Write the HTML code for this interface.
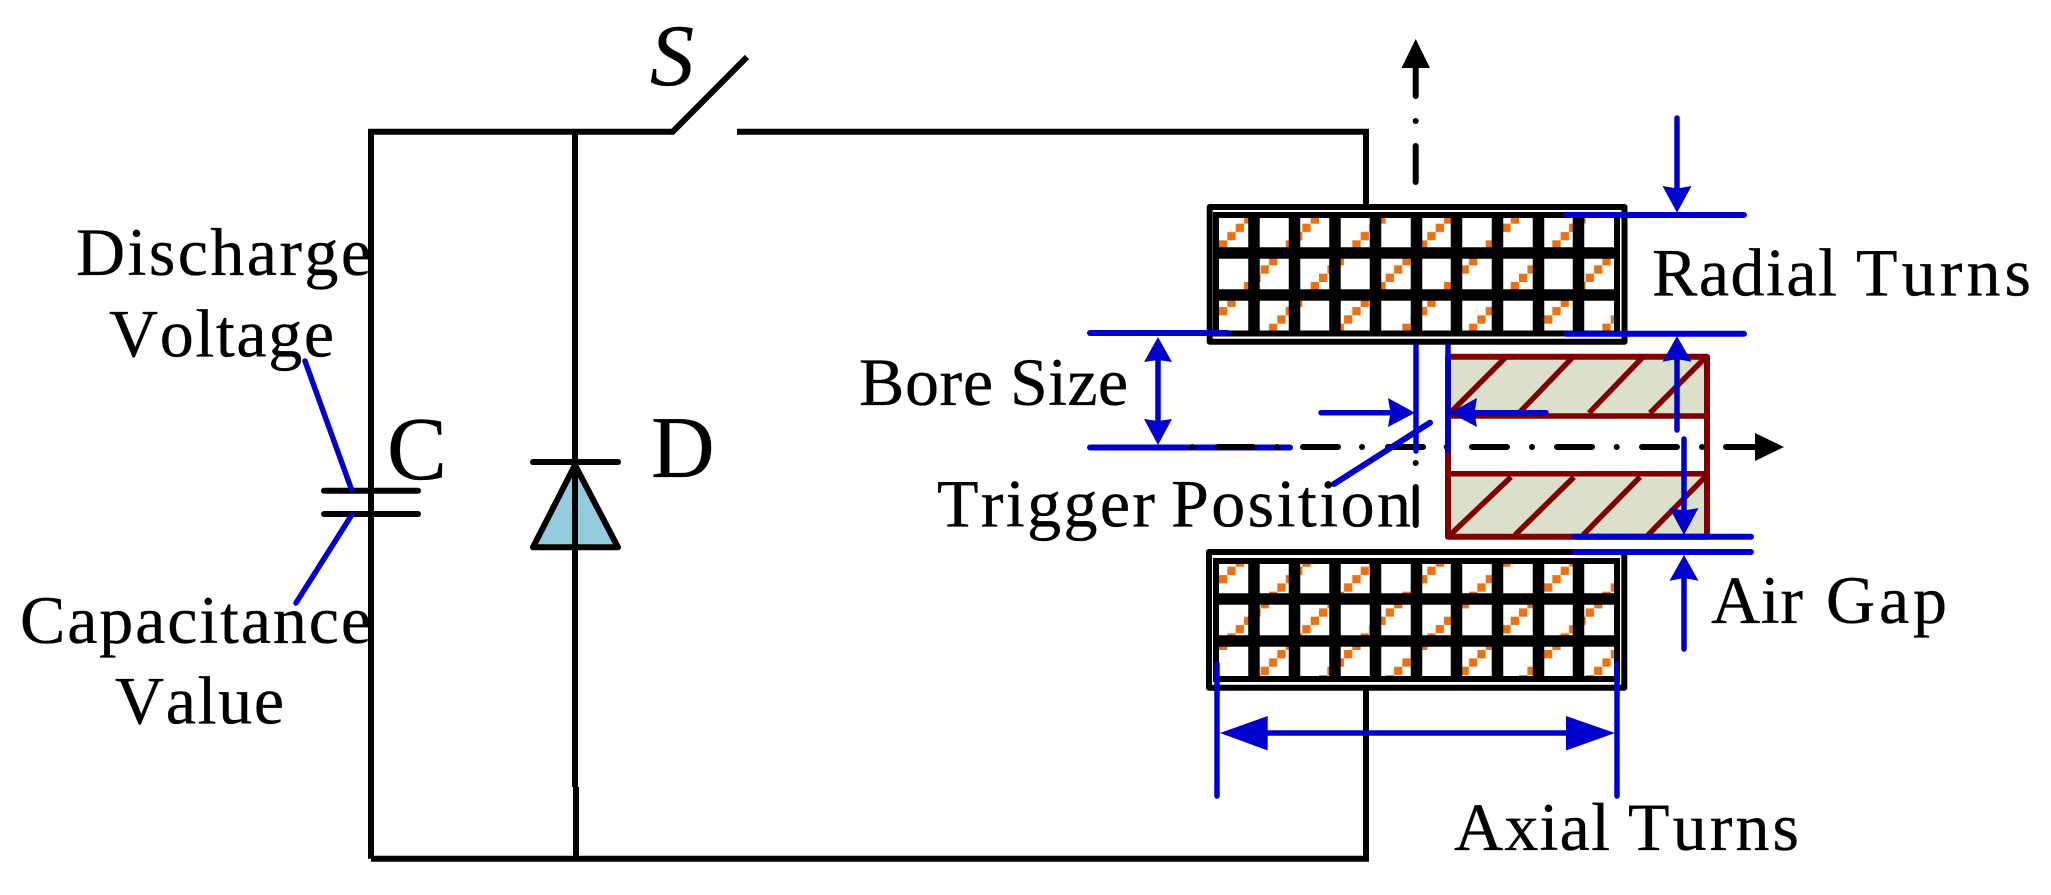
<!DOCTYPE html>
<html>
<head>
<meta charset="utf-8">
<style>
html,body{margin:0;padding:0;background:#fff;width:2051px;height:895px;overflow:hidden}
svg{display:block}
text{font-family:"Liberation Serif",serif;fill:#000;font-size:68px;font-kerning:none;stroke:#000;stroke-width:.35}
</style>
</head>
<body>
<svg width="2051" height="895" viewBox="0 0 2051 895" xmlns="http://www.w3.org/2000/svg">
<defs>
<g id="sq">
<rect x="0" y="58.33" width="8.33" height="8.33"/>
<rect x="8.33" y="50" width="8.33" height="8.33"/>
<rect x="16.67" y="41.67" width="8.33" height="8.33"/>
<rect x="25" y="33.33" width="8.33" height="8.33"/>
<rect x="33.33" y="25" width="8.33" height="8.33"/>
<rect x="41.67" y="16.67" width="8.33" height="8.33"/>
<rect x="50" y="8.33" width="8.33" height="8.33"/>
<rect x="58.33" y="0" width="8.33" height="8.33"/>
</g>
<pattern id="p1" patternUnits="userSpaceOnUse" x="1219" y="182" width="66.67" height="66.67">
<use href="#sq" fill="#ec7211"/>
</pattern>
<pattern id="p2" patternUnits="userSpaceOnUse" x="1219" y="516.7" width="66.67" height="66.67">
<use href="#sq" fill="#ec7211"/>
</pattern>
</defs>
<rect width="2051" height="895" fill="#fff"/>

<!-- circuit wires -->
<g fill="none" stroke="#000" stroke-width="6" stroke-linejoin="miter">
<path d="M371 858.7V131.7H672.7L747 57"/>
<path d="M737 131.7H1366V204"/>
<path d="M575 131.7V787M576 787V858.7"/>
<path d="M371 858.7H1366V690"/>
</g>
<g stroke="#000" stroke-width="6" stroke-linecap="round">
<line x1="324" y1="490.7" x2="418" y2="490.7"/>
<line x1="324" y1="514" x2="418" y2="514"/>
<line x1="533" y1="462" x2="618" y2="462"/>
</g>
<!-- diode -->
<path d="M575 465L533 547.3H618Z" fill="#93cddd" stroke="#000" stroke-width="6" stroke-linejoin="round"/>
<line x1="575" y1="462" x2="575" y2="560" stroke="#000" stroke-width="6"/>

<!-- top coil -->
<rect x="1209.7" y="207" width="414.8" height="134.7" fill="#fff" stroke="#000" stroke-width="6" stroke-linejoin="round"/>
<rect x="1213" y="212" width="407" height="124" fill="url(#p1)"/>
<g stroke="#000" stroke-width="11.5" fill="none">
<path d="M1254 212V336M1294.5 212V336M1335 212V336M1375.5 212V336M1416.5 212V336M1456.5 212V336M1497.5 212V336M1538.5 212V336M1578.5 212V336"/>
<path d="M1213 253H1620M1213 295H1620"/>
</g>
<rect x="1216" y="215" width="401" height="118.5" fill="none" stroke="#000" stroke-width="6"/>

<!-- bottom coil -->
<rect x="1209" y="552" width="415.3" height="135.7" fill="#fff" stroke="#000" stroke-width="6" stroke-linejoin="round"/>
<rect x="1213" y="558" width="407" height="124" fill="url(#p2)"/>
<g stroke="#000" stroke-width="11.5" fill="none">
<path d="M1254 558V682M1294.5 558V682M1335 558V682M1375.5 558V682M1416.5 558V682M1456.5 558V682M1497.5 558V682M1538.5 558V682M1578.5 558V682"/>
<path d="M1213 599H1620M1213 641H1620"/>
</g>
<rect x="1216" y="561" width="401" height="118" fill="none" stroke="#000" stroke-width="6"/>

<!-- armature -->
<rect x="1448" y="356.7" width="259" height="60" fill="#dce0ca"/>
<rect x="1448" y="473.7" width="259" height="63" fill="#dce0ca"/>
<g fill="none" stroke="#800000" stroke-width="5.5">
<path d="M1450 413L1505 358M1519 413L1572 358M1589 413L1642 358M1650 413L1705 358"/>
<path d="M1450 535L1511 477M1515 535L1574 477M1583 535L1640 477M1648 535L1705 477"/>
<path d="M1448 416H1707M1448 473.7H1707"/>
<rect x="1448" y="356.7" width="259" height="180" stroke-width="6" stroke-linejoin="round"/>
</g>

<!-- blue horizontal before axis -->
<line x1="1090" y1="447.5" x2="1290" y2="447.5" stroke="#0000cd" stroke-width="6" stroke-linecap="round"/>

<!-- axes -->
<g stroke="#000" stroke-width="6" stroke-linecap="round" fill="#000">
<path d="M1218 447H1253M1303 447H1338M1388 447H1423M1472 447H1507M1557 447H1592M1642 447H1677M1726 447H1756" fill="none"/>
<path d="M1415.7 68V96M1415.7 146V182M1415.7 487V525" fill="none"/>
</g>
<g fill="#000">
<circle cx="1192.3" cy="447" r="3"/><circle cx="1277" cy="447" r="3"/><circle cx="1362" cy="447" r="3"/>
<circle cx="1446.7" cy="447" r="3"/><circle cx="1532" cy="447" r="3"/><circle cx="1616.7" cy="447" r="3"/>
<circle cx="1702" cy="447" r="3"/>
<circle cx="1415.7" cy="121" r="3"/><circle cx="1415.7" cy="463" r="3"/>
<path d="M1784 447L1755 433V461Z"/>
<path d="M1415.7 39L1401.5 68H1430Z"/>
</g>

<!-- blue dims -->
<g stroke="#0000cd" stroke-linecap="round" fill="none">
<g stroke-width="6">
<path d="M1090 333H1228"/>
<path d="M1566 215H1744M1566 333.7H1744"/>
<path d="M1574 536.7H1751M1574 552H1751"/>
<path d="M1430 422.7L1334 484"/>
</g>
<g stroke-width="5.5">
<path d="M1158 350V432"/>
<path d="M1677 118V190M1677 355V430"/>
<path d="M1684 439V512M1684 575V649"/>
<path d="M1217 664V796M1617 664V796"/>
<path d="M1260 733H1575"/>
<path d="M1416 346V451M1448 346V451"/>
<path d="M1321 412.7H1395M1546 412.7H1470"/>
<path d="M305 361L351.7 490"/>
<path d="M351.7 515L296 603"/>
</g>
</g>
<g fill="#0000cd">
<path d="M1158 337L1172 362L1158 360L1144 362Z"/>
<path d="M1158 445L1144 419L1158 421L1172 419Z"/>
<path d="M1677 212.7L1662.5 186L1677 188.5L1691.5 186Z"/>
<path d="M1677 336L1662.5 361.7L1677 359L1691.5 361.7Z"/>
<path d="M1684 535L1669.5 508L1684 510.5L1698.5 508Z"/>
<path d="M1684 555L1669.5 580.7L1684 578L1698.5 580.7Z"/>
<path d="M1220 733L1267.7 716V750.5Z"/>
<path d="M1615 733L1566 716V750.5Z"/>
<path d="M1415 412.7L1388 398L1390.5 412.7L1388 427Z"/>
<path d="M1450 412.7L1477 398L1474.5 412.7L1477 427Z"/>
</g>

<!-- labels -->
<text x="76" y="275" textLength="295" lengthAdjust="spacing">Discharge</text>
<text x="109" y="356.4" textLength="225" lengthAdjust="spacing">Voltage</text>
<text x="20" y="643" textLength="351" lengthAdjust="spacing">Capacitance</text>
<text x="115" y="723.6" textLength="169" lengthAdjust="spacing">Value</text>
<text x="387" y="479" style="font-size:90px">C</text>
<text x="651" y="477" style="font-size:88px">D</text>
<text x="650" y="85" style="font-size:88px;font-style:italic">S</text>
<text x="1652" y="295.7" textLength="185" lengthAdjust="spacing">Radial</text>
<text x="1856" y="295.7" textLength="175" lengthAdjust="spacing">Turns</text>
<text x="859" y="405" textLength="134" lengthAdjust="spacing">Bore</text>
<text x="1010" y="405" textLength="118" lengthAdjust="spacing">Size</text>
<text x="937" y="526.7" textLength="218" lengthAdjust="spacing">Trigger</text>
<text x="1171" y="526.7" textLength="240" lengthAdjust="spacing">Position</text>
<text x="1711" y="623" textLength="92" lengthAdjust="spacing">Air</text>
<text x="1826" y="623" textLength="121" lengthAdjust="spacing">Gap</text>
<text x="1454" y="850" textLength="156" lengthAdjust="spacing">Axial</text>
<text x="1628" y="850" textLength="171" lengthAdjust="spacing">Turns</text>
</svg>
</body>
</html>
